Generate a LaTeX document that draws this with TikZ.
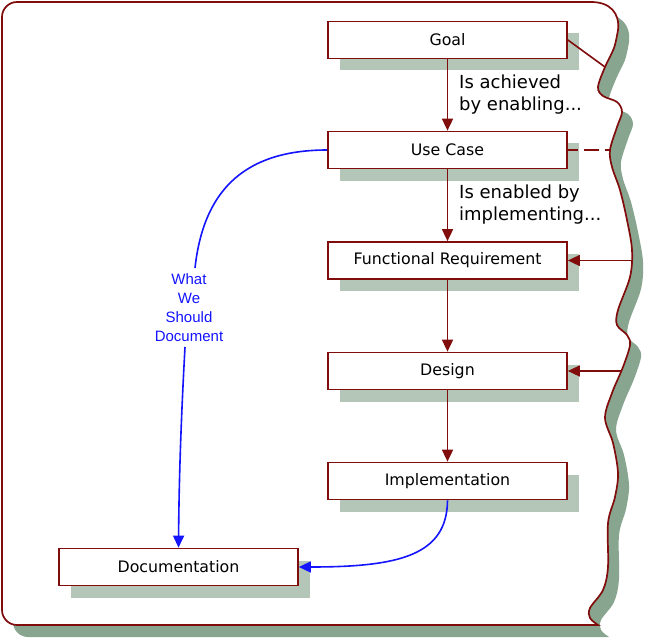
\documentclass[tikz,border=0pt]{standalone}
\usepackage{fontspec}
\setmainfont{DejaVu Sans}
\newfontfamily\arialfont{Liberation Sans}
\usetikzlibrary{arrows.meta,shadows}
\definecolor{dred}{RGB}{128,12,12}
\definecolor{bshadow}{RGB}{179,198,184}
\definecolor{fshadow}{RGB}{136,165,143}
\definecolor{lblue}{RGB}{20,20,255}
\newcommand\wavyframe{[rounded corners=15pt] (598,625) -- (2,625) -- (2,2) -- (576,2) [sharp corners] .. controls (610,2) and (620,13) .. (618,30) -- plot[smooth,tension=0.55] coordinates{(618,30) (614,48) (605,67) (598,87) (603,96) (617,102) (622,112) (617,127) (610,150) (612,167) (620,190) (627,220) (632,250) (630,277) (618,310) (617,325) (627,335) (630,345) (623,367) (612,393) (605,418) (613,443) (618,473) (615,497) (608,523) (608,567) (603,590) (590,608) (590,618) (598,625)} -- cycle}
\begin{document}
\begin{tikzpicture}[x=1pt,y=-1pt,
  box/.style={draw=dred, line width=1.7pt, fill=white, minimum width=239pt, minimum height=37pt, inner sep=0pt,
    font=\fontsize{15.8}{19}\selectfont,
    drop shadow={shadow xshift=12pt, shadow yshift=-12pt, fill=bshadow, opacity=1}},
  lbl/.style={font=\fontsize{18}{22}\selectfont, align=left, inner sep=0pt, anchor=north west},
  wlbl/.style={font=\arialfont\fontsize{15}{19}\selectfont, text=lblue, align=center, inner sep=0pt},
  rline/.style={draw=dred, line width=1.6pt},
  rarrow/.style={rline, -{Triangle[length=12pt,width=11pt]}},
  bline/.style={draw=lblue, line width=1.6pt},
  barrow/.style={bline, -{Triangle[length=12pt,width=11pt]}}]
\useasboundingbox (0,0) rectangle (647,639);
% frame
\begin{scope}[xshift=11pt,yshift=-12pt]
\fill[fshadow] \wavyframe;
\end{scope}
\filldraw[fill=white, draw=dred, line width=1.7pt] \wavyframe;
% nodes
\node[box] (goal) at (447.5,40) {Goal};
\node[box] (uc) at (447.5,150) {Use Case};
\node[box] (fr) at (447.5,260.5) {Functional Requirement};
\node[box] (des) at (447.5,371) {Design};
\node[box] (imp) at (447.5,481) {Implementation};
\node[box] (doc) at (178.5,567) {Documentation};
\node[lbl] (l1) at (459,74.5) {Is achieved\\by enabling...};
\node[lbl] (l2) at (459,184.6) {Is enabled by\\implementing...};
\node[wlbl] (wd) at (189,307.5) {What\\We\\Should\\Document};
% coordinates on the wave and near the label
\coordinate (w1) at (605,67);
\coordinate (w2) at (611,150);
\coordinate (w3) at (632,260.5);
\coordinate (w4) at (622,371);
\coordinate (wt) at (195,268);
\coordinate (wb) at (185,347);
% connectors
\draw[rarrow] (goal.south) -- (uc.north);
\draw[rarrow] (uc.south) -- (fr.north);
\draw[rarrow] (fr.south) -- (des.north);
\draw[rarrow] (des.south) -- (imp.north);
\draw[rline] (goal.east) -- (w1);
\draw[rline, dash pattern=on 10pt off 6pt on 15pt off 6pt] (uc.east) -- (w2);
\draw[rarrow] (w3) -- (fr.east);
\draw[rarrow] (w4) -- (des.east);
\draw[bline] (uc.west) .. controls (240,150) and (203,195) .. (wt);
\draw[barrow] (wb) .. controls (181,420) and (179,480) .. (doc.north);
\draw[barrow] (imp.south) .. controls (447,555) and (400,567) .. (doc.east);
\end{tikzpicture}
\end{document}
